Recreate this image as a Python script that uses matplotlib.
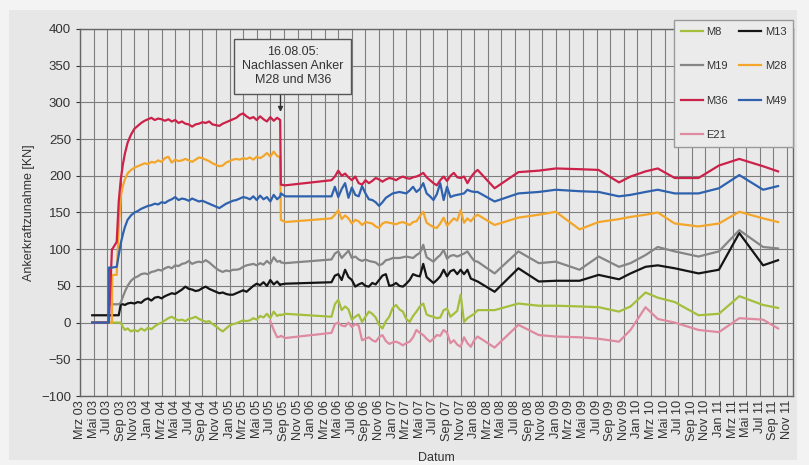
import numpy as np
import matplotlib.pyplot as plt
from matplotlib.patches import Rectangle

plt.rcParams['font.family'] = ['Liberation Sans', 'DejaVu Sans']

# ── Messzeitpunkte (Monate seit März 2003) ─────────────────────────────────────
monate = [1.8, 4.2, 4.25, 4.7, 4.75, 5.4, 5.7, 6.0, 6.3, 6.6, 7.0, 7.5, 8.0,
          8.5, 9.0, 9.5, 10.0, 10.5, 11.0, 11.5, 12.0, 12.5, 13.0, 13.5, 14.0,
          14.5, 15.0, 15.5, 16.0, 16.5, 17.0, 17.5, 18.0, 18.5, 19.0, 19.5,
          20.0, 20.5, 21.0, 21.5, 22.0, 22.5, 23.0, 23.5, 24.0, 24.5, 25.0,
          25.5, 26.0, 26.5, 27.0, 27.5, 28.0, 28.5, 29.0, 29.45,
          29.55, 30.2,
          37.0, 37.5, 38.0, 38.5, 39.0, 39.5, 40.0, 40.5, 41.0, 41.5, 42.0,
          42.5, 43.0, 43.5, 44.0, 44.5, 45.0, 45.5, 46.0, 46.5, 47.0, 47.5,
          48.0, 48.5, 49.0, 49.5, 50.0, 50.5, 51.0, 51.5, 52.0, 52.5, 53.0,
          53.5, 54.0, 54.5, 55.0, 55.5, 56.0, 56.5, 57.0, 57.5, 58.0, 58.5,
          61.0, 64.5, 67.5, 70.0, 73.5, 76.3, 79.3, 81.0, 83.2, 85.0, 87.5,
          91.0, 94.0, 97.0, 100.5, 102.7]

# ── Ankerkraftzunahme [kN] ─────────────────────────────────────────────────────
m8 = [0, 0, 0, 0, 0, 0, 0, 0, -6, -10, -8, -12, -10,
      -12, -8, -11, -7, -9, -5, -2, 0, 3, 6, 8, 5, 3, 4, 2, 5, 6, 8, 5, 3,
      1, 2, -2, -5, -9, -12, -8, -4, -2, -1, 1, 3, 2, 3, 6, 4, 9, 7, 12, 6,
      15, 9, 11,
      10, 12,
      8, 25, 31, 17, 22, 18, 4, 8, 11, 1, 8, 15, 12, 7, -3, -8, 2, 8, 20,
      24, 18, 15, 5, 1, 9, 15, 22, 26, 11, 9, 8, 6, 7, 17, 19, 8, 12, 16,
      38, 1, 6, 9, 12, 17,
      17, 26, 23, 23, 22, 21, 15, 22, 41, 34, 28, 10, 12, 36, 24, 20]

m13 = [10, 10, 10, 10, 10, 10, 10, 25, 25, 24, 26, 27, 26,
       28, 27, 31, 33, 30, 34, 35, 33, 36, 38, 40, 39, 42, 45, 49, 46, 45,
       43, 44, 47, 49, 46, 44, 42, 40, 41, 39, 38, 38, 40, 42, 44, 42, 46,
       50, 53, 51, 55, 50, 58, 52, 56, 51,
       52, 53,
       55, 64, 66, 58, 72, 62, 58, 49, 52, 54, 50, 49, 54, 52, 58, 64, 66,
       50, 51, 54, 50, 49, 53, 58, 66, 64, 63, 80, 62, 58, 54, 58, 63, 72,
       63, 70, 72, 66, 72, 66, 72, 60, 58, 56,
       42, 74, 56, 57, 57, 65, 59, 67, 76, 78, 74, 67, 72, 122, 78, 85]

m19 = [0, 0, 25, 25, 25, 25, 25, 27, 35, 42, 50, 57, 61,
       63, 66, 67, 66, 69, 70, 72, 71, 74, 76, 74, 78, 77, 80, 81, 84, 80,
       82, 83, 82, 85, 82, 78, 74, 71, 69, 71, 70, 72, 72, 73, 76, 78, 79,
       80, 78, 81, 79, 84, 80, 89, 83, 84,
       82, 81,
       86, 94, 97, 88, 93, 98, 88, 90, 86, 84, 86, 84, 83, 82, 78, 80, 85,
       86, 88, 88, 88, 89, 90, 89, 88, 92, 95, 106, 89, 86, 83, 88, 92, 99,
       87, 91, 92, 90, 92, 94, 97, 90, 84, 83,
       67, 97, 81, 83, 72, 90, 76, 81, 92, 103, 97, 90, 97, 126, 103, 101]

m28 = [0, 0, 0, 0, 65, 65, 130, 172, 186, 195, 203, 208, 211,
       213, 215, 217, 216, 219, 218, 221, 219, 224, 226, 218, 222, 220, 221,
       223, 221, 219, 222, 225, 224, 222, 220, 217, 215, 213, 214, 218, 220,
       222, 223, 222, 224, 223, 225, 222, 226, 224, 227, 231, 226, 233, 227,
       225,
       140, 137,
       142, 147, 153, 141, 146, 142, 135, 140, 138, 133, 137, 136, 135, 131,
       129, 135, 137, 136, 135, 134, 136, 137, 135, 133, 137, 138, 145, 151,
       136, 133, 130, 129, 135, 143, 132, 137, 142, 139, 153, 136, 142, 138,
       144, 147,
       133, 143, 147, 151, 127, 137, 141, 144, 147, 150, 135, 131, 135, 151,
       142, 137]

m36 = [0, 0, 0, 100, 100, 110, 165, 195, 215, 230, 245, 256, 264,
       268, 272, 275, 277, 279, 276, 278, 277, 275, 277, 274, 276, 272, 274,
       271, 270, 267, 270, 271, 273, 272, 274, 270, 269, 268, 271, 273, 275,
       277, 279, 283, 285, 281, 278, 280, 276, 281, 277, 274, 280, 275, 279,
       276,
       188, 187,
       194, 199, 207, 200, 203, 198, 194, 199, 190, 188, 194, 190, 193, 197,
       195, 192, 195, 197, 196, 194, 197, 199, 197, 196, 198, 199, 201, 204,
       198, 194, 190, 187, 194, 199, 193, 200, 204, 198, 197, 199, 190, 198,
       204, 208,
       183, 205, 207, 210, 209, 208, 191, 199, 206, 210, 197, 197, 214, 223,
       213, 206]

m49 = [0, 0, 75, 75, 75, 76, 92, 108, 120, 130, 140, 146, 150,
       152, 155, 157, 159, 160, 162, 161, 164, 163, 166, 168, 171, 167, 169,
       168, 166, 169, 167, 165, 166, 164, 162, 160, 158, 156, 159, 162, 164,
       166, 167, 169, 171, 170, 168, 172, 167, 173, 168, 171, 165, 174, 168,
       172,
       176, 172,
       172, 185, 171, 182, 190, 170, 184, 174, 172, 186, 176, 168, 167, 164,
       159, 164, 170, 173, 176, 177, 178, 177, 176, 180, 185, 178, 182, 190,
       176, 172, 167, 175, 190, 167, 185, 171, 173, 174, 175, 176, 181, 179,
       178, 178,
       165, 176, 178, 181, 179, 178, 172, 174, 178, 181, 176, 176, 183, 201,
       181, 186]

# E21 erst ab Juli 2005 gemessen (letzte Messzeitpunkte)
e21 = [2, -10, -20, -19,
       -18, -21,
       -14, -2, 0, -4, -5, 0, -6, -2, -4, -24, -22, -20, -24, -26, -20, -17,
       -25, -29, -27, -26, -28, -31, -28, -26, -20, -10, -14, -17, -22, -26,
       -22, -17, -18, -10, -14, -28, -24, -30, -33, -20, -28, -33, -24, -19,
       -34, -3, -17, -19, -20, -22, -26, -10, 21, 5, 0, -10, -13, 6, 4, -8]

serien = [('M8', m8, '#a3bf3c'), ('M13', m13, '#151515'),
          ('M19', m19, '#858585'), ('M28', m28, '#f3a62a'),
          ('M36', m36, '#cc2149'), ('M49', m49, '#2f62ae'),
          ('E21', e21, '#de8aa0')]

monatsnamen = ['Jan', 'Feb', 'Mrz', 'Apr', 'Mai', 'Jun',
               'Jul', 'Aug', 'Sep', 'Okt', 'Nov', 'Dez']
tick_pos = list(range(0, 105, 2))
tick_labels = [f'{monatsnamen[(2 + p) % 12]} {(3 + (2 + p) // 12):02d}' for p in tick_pos]

# ── Diagramm ───────────────────────────────────────────────────────────────────
fig = plt.figure(figsize=(8.09, 4.65), dpi=100, facecolor='#f3f3f3')
fig.patches.append(Rectangle((9 / 809, 5 / 465), 788 / 809, 450 / 465,
                             transform=fig.transFigure, facecolor='#e7e7e7',
                             edgecolor='none', zorder=-10))
ax = fig.add_axes([80 / 809, 69 / 465, 713 / 809, 367 / 465])
ax.set_zorder(1)
ax.set_facecolor('#e9e9e9')

for name, werte, farbe in serien:
    ax.plot(monate[-len(werte):], werte, color=farbe, lw=1.6, label=name,
            solid_joinstyle='round')

ax.set_xlim(0, 104.9)
ax.set_ylim(-100, 400)
ax.set_yticks(range(-100, 401, 50))
ax.set_xticks(tick_pos)
ax.set_xticklabels(tick_labels, rotation=90, fontsize=9.2, color='#333333')
ax.tick_params(axis='y', labelsize=9.5, colors='#333333', length=3, width=0.8)
ax.tick_params(axis='x', length=0, pad=3)
ax.grid(True, color='#7e7e7e', lw=0.8)
ax.set_axisbelow(True)
for sp in ax.spines.values():
    sp.set_color('#666666')
    sp.set_linewidth(1.0)

ax.set_ylabel('Ankerkraftzunahme [KN]', fontsize=9, color='#333333', labelpad=4)
ax.set_xlabel('Datum', fontsize=9, color='#333333', labelpad=8)

# Hinweis auf das Nachlassen der Anker
ax.annotate('', xy=(29.5, 287), xytext=(29.5, 311),
            arrowprops=dict(arrowstyle='-|>', color='#333333', lw=1.0,
                            mutation_scale=7, shrinkA=0, shrinkB=0))
ax.text(31.3, 349.5, '16.08.05:\nNachlassen Anker\nM28 und M36', ha='center',
        va='center', fontsize=9, color='#333333', linespacing=1.2,
        bbox=dict(boxstyle='square,pad=0.62', facecolor='#ebebeb',
                  edgecolor='#555555', lw=1.0))

handles, labels = ax.get_legend_handles_labels()
reihenfolge = [0, 2, 4, 6, 1, 3, 5]
leg = fig.legend([handles[i] for i in reihenfolge], [labels[i] for i in reihenfolge],
                 ncol=2, loc='upper right', bbox_to_anchor=(793 / 809, 1 - 20 / 465),
                 borderaxespad=0, fontsize=8, labelspacing=2.2, handlelength=2.0,
                 handletextpad=0.3, columnspacing=1.0, borderpad=0.6,
                 frameon=True, fancybox=False, facecolor='#ebebeb',
                 edgecolor='#9a9a9a', framealpha=1.0, labelcolor='#333333')
leg.set_zorder(5)

fig.savefig('out.png', dpi=100, facecolor=fig.get_facecolor())
